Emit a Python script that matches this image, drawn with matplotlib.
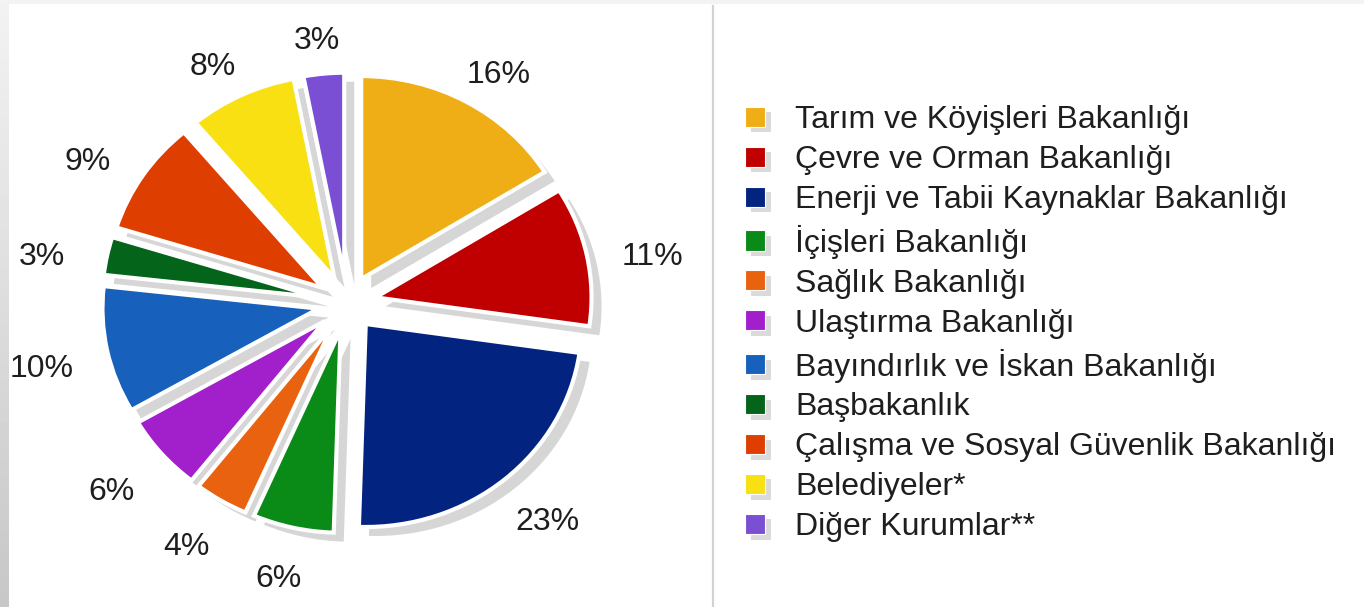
import numpy as np
import matplotlib
matplotlib.use("Agg")
import matplotlib.pyplot as plt
from matplotlib.patches import Rectangle
from matplotlib.lines import Line2D
from matplotlib.legend_handler import HandlerBase

# ---------------- data ----------------
categories = [
    "Tarım ve Köyişleri Bakanlığı",
    "Çevre ve Orman Bakanlığı",
    "Enerji ve Tabii Kaynaklar Bakanlığı",
    "İçişleri Bakanlığı",
    "Sağlık Bakanlığı",
    "Ulaştırma Bakanlığı",
    "Bayındırlık ve İskan Bakanlığı",
    "Başbakanlık",
    "Çalışma ve Sosyal Güvenlik Bakanlığı",
    "Belediyeler*",
    "Diğer Kurumlar**",
]
shares = [16, 11, 23, 6, 4, 6, 10, 3, 9, 8, 3]
pct_labels = ["16%", "11%", "23%", "6%", "4%", "6%", "10%", "3%", "9%", "8%", "3%"]
colors = ["#f0ae16", "#c00000", "#032381", "#0a8a16", "#e8620f", "#a21fcc",
          "#1761bd", "#04651a", "#de3f00", "#f8e012", "#7b4fd4"]

plt.rcParams['font.family'] = ['Liberation Sans', 'DejaVu Sans']

W, H = 1364, 607
fig = plt.figure(figsize=(W / 100, H / 100), dpi=100)
fig.patch.set_facecolor("white")

# pie geometry in pixels
cx, cy = 347, 303
rx, ry = 216, 203
divider = 712

ax = fig.add_axes([0, 0, divider / W, 1])
explode = [0.135] * len(shares)

# shadow pie
sdx, sdy = 10 / rx, -9 / ry
ax.pie(shares, explode=explode, colors=["#d6d6d6"] * len(shares), startangle=90,
       counterclock=False, center=(sdx, sdy),
       wedgeprops=dict(edgecolor="#d6d6d6", linewidth=0))
wedges, _ = ax.pie(shares, explode=explode, colors=colors, startangle=90,
                   counterclock=False,
                   wedgeprops=dict(edgecolor="white", linewidth=3))

for w, lab in zip(wedges, pct_labels):
    ang = np.deg2rad((w.theta1 + w.theta2) / 2)
    x = w.center[0] + 1.31 * np.cos(ang)
    y = w.center[1] + 1.21 * np.sin(ang) - 0.05
    ax.text(x, y, lab, ha="center", va="center", fontsize=23, color="#1e1e1e")

ax.set_aspect("auto")
ax.set_xlim(-cx / rx, (divider - cx) / rx)
ax.set_ylim(-(H - cy) / ry, cy / ry)
ax.axis("off")

# left gradient strip
gax = fig.add_axes([0, 0, 9 / W, 1])
grad = np.linspace(0.95, 0.78, 200).reshape(-1, 1)
gax.imshow(grad, aspect="auto", cmap="gray", vmin=0, vmax=1,
           extent=[0, 1, 0, 1], origin="upper")
gax.axis("off")

# divider line
fig.add_artist(Line2D([(divider + 0.5) / W] * 2, [0, 0.99], color="#d2d2d2", lw=1.6))
fig.add_artist(Line2D([9 / W, 1], [1 - 2 / H] * 2, color="#f3f3f3", lw=3))


class ShadowSquare(HandlerBase):
    def create_artists(self, legend, orig_handle, xdescent, ydescent, width,
                       height, fontsize, trans):
        s = min(width, height)
        x0 = -xdescent
        y0 = -ydescent + (height - s) / 2
        sh = Rectangle((x0 + 4, y0 - 4), s, s, facecolor="#dadada",
                       edgecolor="none", transform=trans)
        r = Rectangle((x0, y0), s, s, facecolor=orig_handle.get_facecolor(),
                      edgecolor="white", lw=0.8, transform=trans)
        return [sh, r]


handles = [Rectangle((0, 0), 1, 1, facecolor=c) for c in colors]
leg = fig.legend(handles, categories, loc="upper left",
                 bbox_to_anchor=(745 / W, 1 - 105 / H),
                 frameon=False, fontsize=23, borderpad=0, borderaxespad=0,
                 handlelength=0.63, handleheight=0.63, handletextpad=0.94,
                 labelspacing=0.31,
                 handler_map={Rectangle: ShadowSquare()})
for t in leg.get_texts():
    t.set_color("#1e1e1e")

fig.savefig("out.png", dpi=100)
